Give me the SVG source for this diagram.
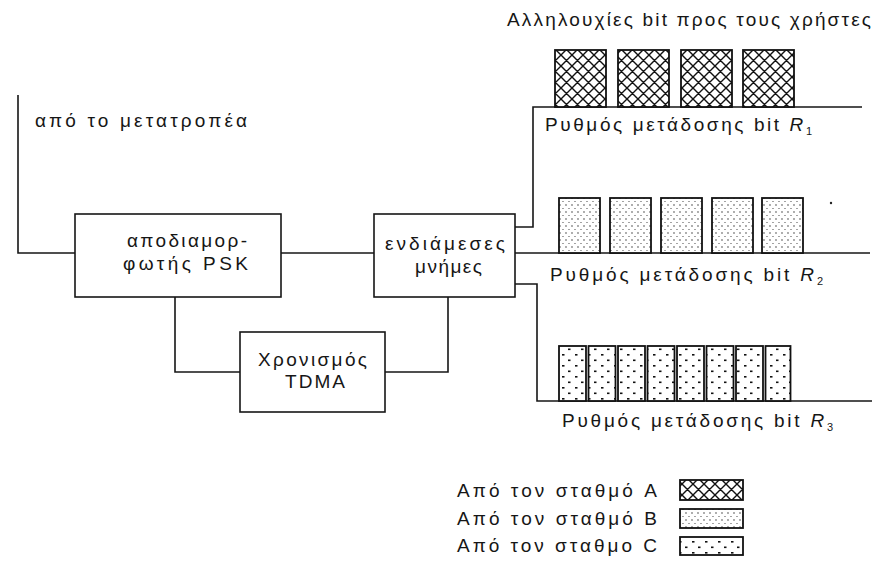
<svg xmlns="http://www.w3.org/2000/svg" width="893" height="561" viewBox="0 0 893 561">
<style>
  text { font-family: "Liberation Sans", Arial, sans-serif; font-size: 19px; fill: #161616; }
  .ln { fill: none; stroke: #161616; stroke-width: 1.6; }
  .box { fill: #fff; stroke: #161616; stroke-width: 1.6; }
  .blkA { fill: url(#patA); stroke: #111; stroke-width: 1.8; }
  .blkB { fill: url(#patB); stroke: #111; stroke-width: 1.8; }
  .blkC { fill: url(#patC); stroke: #111; stroke-width: 1.8; }
  .it { font-style: italic; }
  .sub { font-size: 11px; }
</style>
<defs>
  <pattern id="patA" patternUnits="userSpaceOnUse" width="11" height="11">
    <rect width="11" height="11" fill="#fff"/>
    <path d="M0,0 L11,11 M11,0 L0,11 M-2,9 L2,13 M9,-2 L13,2 M9,13 L13,9 M-2,2 L2,-2" stroke="#111" stroke-width="1.4"/>
  </pattern>
  <pattern id="patB" patternUnits="userSpaceOnUse" width="6" height="7">
    <rect width="6" height="7" fill="#fff"/>
    <circle cx="2" cy="2" r="0.7" fill="#222"/>
    <circle cx="5" cy="5.5" r="0.6" fill="#333"/>
  </pattern>
  <pattern id="patC" patternUnits="userSpaceOnUse" width="13" height="11">
    <rect width="13" height="11" fill="#fff"/>
    <rect x="3" y="2" width="2.5" height="1.6" fill="#111"/>
    <rect x="9" y="7.5" width="2.5" height="1.6" fill="#111"/>
  </pattern>
</defs>

<g id="connectors">
  <polyline class="ln" points="18,95 18,253 75,253"/>
  <line class="ln" x1="281" y1="253" x2="374" y2="253"/>
  <polyline class="ln" points="175,297 175,372 240,372"/>
  <polyline class="ln" points="448,297 448,372 385,372"/>
  <polyline class="ln" points="515,227 533,227 533,107 862,107"/>
  <line class="ln" x1="515" y1="253" x2="870" y2="253"/>
  <polyline class="ln" points="515,284 537,284 537,401 872,401"/>
</g>

<g id="input-label">
  <text x="35" y="127" textLength="212" lengthAdjust="spacing">από το μετατροπέα</text>
</g>

<g id="psk">
  <rect class="box" x="75" y="214" width="206" height="83"/>
  <text x="127" y="247" textLength="120" lengthAdjust="spacing">αποδιαμορ-</text>
  <text x="123" y="270" textLength="125" lengthAdjust="spacing">φωτής PSK</text>
</g>

<g id="buffers">
  <rect class="box" x="374" y="214" width="141" height="83"/>
  <text x="385" y="250" textLength="120" lengthAdjust="spacing">ενδιάμεσες</text>
  <text x="415" y="273" textLength="67" lengthAdjust="spacing">μνήμες</text>
</g>

<g id="tdma">
  <rect class="box" x="240" y="332" width="145" height="80"/>
  <text x="258" y="366" textLength="109" lengthAdjust="spacing">Χρονισμός</text>
  <text x="285" y="388" textLength="60" lengthAdjust="spacing">TDMA</text>
</g>

<g id="title">
  <text x="507" y="26" textLength="364" lengthAdjust="spacing">Αλληλουχίες bit προς τους χρήστες</text>
</g>

<g id="row1">
  <rect class="blkA" x="555" y="50" width="51" height="57"/>
  <rect class="blkA" x="618" y="50" width="51" height="57"/>
  <rect class="blkA" x="681" y="50" width="51" height="57"/>
  <rect class="blkA" x="743" y="50" width="51" height="57"/>
  <text x="545" y="131" textLength="267" lengthAdjust="spacing">Ρυθμός μετάδοσης bit <tspan class="it">R</tspan><tspan class="sub" dy="4">1</tspan></text>
</g>

<g id="row2">
  <rect class="blkB" x="559" y="198" width="41" height="55"/>
  <rect class="blkB" x="610" y="198" width="41" height="55"/>
  <rect class="blkB" x="661" y="198" width="41" height="55"/>
  <rect class="blkB" x="712" y="198" width="41" height="55"/>
  <rect class="blkB" x="762" y="198" width="41" height="55"/>
  <circle cx="831" cy="203" r="1.2" fill="#222"/>
  <text x="550" y="281" textLength="273" lengthAdjust="spacing">Ρυθμός μετάδοσης bit <tspan class="it">R</tspan><tspan class="sub" dy="4">2</tspan></text>
</g>

<g id="row3">
  <rect class="blkC" x="559" y="346" width="27" height="55"/>
  <rect class="blkC" x="588.5" y="346" width="27" height="55"/>
  <rect class="blkC" x="618" y="346" width="27" height="55"/>
  <rect class="blkC" x="647.5" y="346" width="27" height="55"/>
  <rect class="blkC" x="677" y="346" width="27" height="55"/>
  <rect class="blkC" x="706.5" y="346" width="27" height="55"/>
  <rect class="blkC" x="736" y="346" width="27" height="55"/>
  <rect class="blkC" x="765.5" y="346" width="25" height="55"/>
  <text x="562" y="427" textLength="271" lengthAdjust="spacing">Ρυθμός μετάδοσης bit <tspan class="it">R</tspan><tspan class="sub" dy="4">3</tspan></text>
</g>

<g id="legend">
  <text x="457" y="497" textLength="200" lengthAdjust="spacing">Από τον σταθμό A</text>
  <rect class="blkA" x="680" y="480" width="63" height="20"/>
  <text x="457" y="525" textLength="200" lengthAdjust="spacing">Από τον σταθμό B</text>
  <rect class="blkB" x="680" y="509" width="63" height="19"/>
  <text x="457" y="552" textLength="200" lengthAdjust="spacing">Από τον σταθμο C</text>
  <rect class="blkC" x="680" y="537" width="63" height="18"/>
</g>
</svg>
